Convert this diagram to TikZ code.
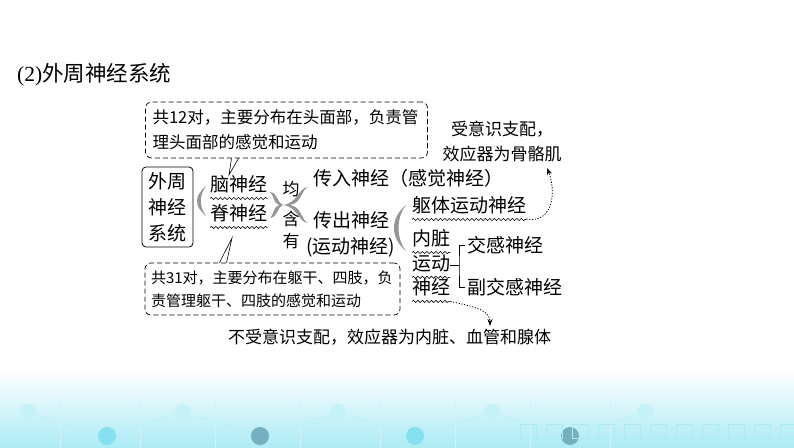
\documentclass[tikz,border=0pt]{standalone}
\usepackage{fontspec}
\newfontfamily\cjk{Noto Sans CJK SC}
\newfontfamily\serif{Liberation Serif}
\usepackage{xcolor}
\usepackage{tikz}
\usetikzlibrary{positioning}
\usetikzlibrary{arrows.meta}
\usetikzlibrary{decorations.pathmorphing}
\definecolor{braceGray}{RGB}{150,150,150}
\definecolor{bgCyan}{RGB}{90,215,235}
\definecolor{bgTeal}{RGB}{70,150,170}

\begin{document}
\begin{tikzpicture}[x=1pt, y=-1pt]
	% ------- style -------
	\tikzset{%
		word/.style={inner sep=0pt, anchor=west, font=\cjk\fontsize{19}{25}\selectfont},
		small/.style={inner sep=0pt, font=\cjk\fontsize{17}{22}\selectfont},
		hand/.style={inner sep=0pt, font=\cjk\fontsize{16.5}{25}\selectfont},
		note/.style={draw, dash pattern=on 5pt off 3pt, line width=.7pt, rounded corners=6pt, align=left},
		wavy/.style={decorate, decoration={snake, amplitude=1.1pt, segment length=4.5pt}, line width=.6pt},
		crescent/.style={fill=braceGray, draw=none},
		pointer/.style={line width=.6pt},
		remark/.style={line width=.8pt, dash pattern=on 1.2pt off 1.6pt, -{Stealth[length=7pt, width=5pt]}},
	}
	
	% ------- background -------
	\useasboundingbox (0,0) rectangle (794,447);
	\fill[white] (0,0) rectangle (794,447);
	\shade[top color=white, bottom color=bgCyan!50] (0,370) rectangle (794,447);
	\draw[bgCyan!40, line width=.8pt] (28,412) -- (107,436) -- (183,412) -- (260,436) -- (338,412) -- (415,436) -- (492,412) -- (570,436) -- (645,412);
	\foreach \x in {60,140,215,300,380,455,530,610} {
		\draw[bgCyan!30, line width=.6pt] (\x,398) -- (\x,447);
	}
	\foreach \x in {28,183,338,492,645} {
		\fill[bgCyan!35] (\x,412) circle (8pt);
	}
	\foreach \x/\c in {107/bgCyan, 260/bgTeal, 415/bgCyan, 570/bgTeal} {
		\fill[\c!75] (\x,436) circle (9pt);
	}
	\foreach \x in {520,546,...,780} {
		\draw[white!50!bgCyan, line width=.6pt] (\x,424) rectangle ++(16,14);
	}
	
	% ------- title -------
	\node[inner sep=0pt, anchor=west, font=\fontsize{21.5}{25}\selectfont] (title) at (17,75) {{\serif (2)}{\cjk 外周神经系统}};
	
	% ------- tree -------
	\node[draw, rounded corners=4pt, line width=.8pt, align=center, inner sep=0pt,
		minimum width=51pt, minimum height=80pt, font=\cjk\fontsize{19}{26}\selectfont] (pns) at (167.5,207) {外周\\神经\\系统};
	
	\fill[crescent] (206,186) .. controls (194,196) and (194,206) .. (206,216)
		.. controls (199,206) and (199,196) .. cycle;
	
	\node[word] (brain) at (210,184) {脑神经};
	\node[word] (spinal) at (210,213) {脊神经};
	
	\fill[crescent] (270,192) .. controls (278,193) and (277,203) .. (283,205)
		.. controls (277,207) and (278,217) .. (270,218)
		.. controls (274,215) and (273,207) .. (279,205)
		.. controls (273,203) and (274,195) .. cycle;
	\fill[crescent] (308,187) .. controls (298,188) and (298,203) .. (283,205)
		.. controls (298,207) and (298,222) .. (308,223)
		.. controls (301,220) and (302,207) .. (290,205)
		.. controls (302,203) and (301,190) .. cycle;
	
	\node[small] (jun) at (291,189) {均};
	\node[small] (han) at (291,219) {含};
	\node[small] (you) at (291,241) {有};
	
	\node[word] (aff) at (313,178) {传入神经（感觉神经）};
	\node[word] (eff) at (313,220) {传出神经};
	\node[word] (effsub) at (306,247) {(运动神经)};
	
	\fill[crescent] (406,205) .. controls (390,218) and (390,238) .. (406,251)
		.. controls (396,238) and (396,218) .. cycle;
	
	\node[word] (somatic) at (412,205) {躯体运动神经};
	\node[word] (visc1) at (412,238) {内脏};
	\node[word] (visc2) at (412,263) {运动};
	\node[word] (visc3) at (412,287) {神经};
	
	\node[word] (symp) at (467,245) {交感神经};
	\node[word] (parasymp) at (467,287) {副交感神经};
	
	\coordinate (fork) at (459,265);
	\draw[line width=.7pt] (visc2.east |- fork) -- (fork);
	\draw[line width=.7pt] ([xshift=-2pt]symp.west) -| (fork) |- ([xshift=-2pt]parasymp.west);
	
	% ------- underlines -------
	\foreach \n in {brain, spinal, somatic, visc1, visc2, visc3} {
		\draw[wavy] ([yshift=-5.5pt]\n.south west) -- ([yshift=-5.5pt]\n.south east);
	}
	
	% ------- notes -------
	\node[note, hand, inner xsep=7pt, inner ysep=4pt, text width=268pt, minimum height=56pt] (topnote) at (286.5,130)
		{共12对，主要分布在头面部，负责管\\理头面部的感觉和运动};
	\node[note, hand, font=\cjk\fontsize{15}{23}\selectfont, inner xsep=6pt, inner ysep=4pt, text width=243pt, minimum height=52pt] (botnote) at (272.5,289)
		{共31对，主要分布在躯干、四肢，负\\责管理躯干、四肢的感觉和运动};
	
	\coordinate (toptip) at (229,175);
	\draw[pointer] ([xshift=-55pt]topnote.south) -- (toptip) -- ([xshift=-48pt]topnote.south);
	\coordinate (bottip) at (232,238);
	\draw[pointer] ([xshift=-53pt]botnote.north) -- (bottip) -- ([xshift=-46pt]botnote.north);
	
	\node[hand, align=center, font=\cjk\fontsize{17}{25}\selectfont] (somnote) at (502,142) {受意识支配，\\效应器为骨骼肌};
	\node[hand, font=\cjk\fontsize{17}{25}\selectfont] (visnote) at (389.5,337) {不受意识支配，效应器为内脏、血管和腺体};
	
	\coordinate (somtip) at (547,168);
	\draw[remark] ([yshift=-5pt]somatic.south east) .. controls (554,224) and (556,190) .. (somtip);
	\coordinate (vistip) at (490,326);
	\draw[remark] ([yshift=-5.5pt]visc3.south east) .. controls (470,306) and (490,309) .. (vistip);
\end{tikzpicture}
\end{document}
